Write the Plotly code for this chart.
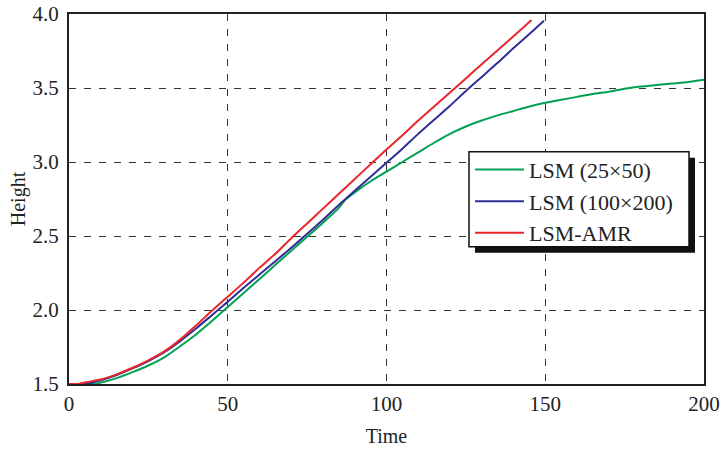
import plotly.graph_objects as go

# Time samples and heights
t_green = [0, 5, 8, 10, 15, 20, 25, 30, 35, 40, 45, 50, 55, 60, 65, 70, 75, 80, 85, 87,
           90, 95, 100, 105, 110, 115, 120, 125, 130, 135, 140, 145, 150, 155, 160, 165,
           170, 175, 180, 185, 190, 195, 200]
h_green = [1.5, 1.5, 1.5, 1.51, 1.54, 1.58, 1.625, 1.68, 1.755, 1.835, 1.925, 2.02, 2.115,
           2.21, 2.305, 2.40, 2.495, 2.59, 2.69, 2.745, 2.795, 2.87, 2.935, 3.0, 3.065,
           3.13, 3.19, 3.24, 3.28, 3.315, 3.345, 3.375, 3.40, 3.42, 3.44, 3.46, 3.475,
           3.495, 3.51, 3.52, 3.53, 3.54, 3.555]

t_blue = [0, 5, 10, 15, 20, 25, 30, 35, 40, 45, 50, 55, 60, 65, 70, 75, 80, 85, 90, 95,
          100, 105, 110, 115, 120, 125, 130, 135, 140, 145, 149.6]
h_blue = [1.5, 1.5, 1.525, 1.56, 1.605, 1.655, 1.715, 1.79, 1.875, 1.965, 2.055, 2.15,
          2.24, 2.33, 2.42, 2.515, 2.61, 2.71, 2.805, 2.90, 2.995, 3.09, 3.19, 3.285,
          3.38, 3.48, 3.575, 3.67, 3.77, 3.865, 3.955]

t_red = [0, 3, 5, 10, 15, 20, 25, 30, 35, 40, 45, 50, 55, 60, 65, 70, 75, 80, 85, 90, 95,
         100, 105, 110, 115, 120, 125, 130, 135, 140, 145.7]
h_red = [1.5, 1.5, 1.51, 1.53, 1.565, 1.61, 1.66, 1.72, 1.80, 1.895, 1.995, 2.09, 2.185,
         2.285, 2.38, 2.485, 2.585, 2.685, 2.785, 2.885, 2.985, 3.085, 3.18, 3.28, 3.375,
         3.47, 3.565, 3.66, 3.755, 3.85, 3.96]

x_ticks = [0, 50, 100, 150, 200]
y_ticks = [1.5, 2.0, 2.5, 3.0, 3.5, 4.0]
y_tick_text = ["1.5", "2.0", "2.5", "3.0", "3.5", "4.0"]

names = ["LSM (25×50)", "LSM (100×200)", "LSM-AMR"]
colors = ["#00a150", "#2e2e96", "#e8262b"]

FONT = "Liberation Serif, Times New Roman, serif"

fig = go.Figure()
for i, (tx, hy) in enumerate([(t_green, h_green), (t_blue, h_blue), (t_red, h_red)]):
    fig.add_trace(go.Scatter(x=tx, y=hy, mode="lines", name=names[i],
                             legendgroup=f"g{i}",
                             line=dict(color=colors[i], width=2, shape="spline",
                                       smoothing=0.6)))

W, H = 721, 449
ML, MR, MT, MB = 69, 17, 14, 64.5
PW, PH = W - ML - MR, H - MT - MB


def px(x):
    return (x - ML) / PW


def py(y):
    return (H - MB - y) / PH


fig.update_layout(
    width=W, height=H,
    margin=dict(l=ML, r=MR, t=MT, b=MB, autoexpand=False),
    paper_bgcolor="white", plot_bgcolor="white",
    font=dict(family=FONT, size=20, color="#222"),
    showlegend=True,
    legend=dict(x=px(470), y=py(149), xanchor="left", yanchor="top",
                bgcolor="rgba(0,0,0,0)", borderwidth=0,
                font=dict(family=FONT, size=22, color="#222"),
                traceorder="grouped", tracegroupgap=0, itemwidth=49),
    shapes=[
        dict(type="rect", xref="paper", yref="paper",
             x0=px(475), x1=px(695), y0=py(253), y1=py(158),
             fillcolor="#111", line=dict(width=0), layer="above"),
        dict(type="rect", xref="paper", yref="paper",
             x0=px(469), x1=px(689), y0=py(247), y1=py(152),
             fillcolor="white", line=dict(width=1.5, color="#111"), layer="above"),
    ],
)
fig.update_xaxes(range=[0, 200], tickvals=x_ticks, showgrid=True, automargin=False,
                 gridcolor="#333", griddash="7px,8px", gridwidth=1.3,
                 showline=True, linecolor="#222", linewidth=2, mirror=True,
                 zeroline=False, ticks="", ticklabelstandoff=0,
                 ticklabeloverflow="allow",
                 tickfont=dict(family=FONT, size=21, color="#222"),
                 title=dict(text="Time", font=dict(family=FONT, size=20, color="#222"),
                            standoff=14))
fig.update_yaxes(range=[1.5, 4.0], tickvals=y_ticks, ticktext=y_tick_text, showgrid=True,
                 automargin=False,
                 gridcolor="#333", griddash="7px,8px", gridwidth=1.3,
                 showline=True, linecolor="#222", linewidth=2, mirror=True,
                 zeroline=False, ticks="", ticklabelstandoff=4,
                 ticklabeloverflow="allow",
                 tickfont=dict(family=FONT, size=21, color="#222"),
                 title=dict(text="Height", font=dict(family=FONT, size=20, color="#222"),
                            standoff=2))

fig.write_html("out.html",
               config={"displayModeBar": False},
               post_script="document.body.style.margin='0';"
                           "document.body.style.overflow='hidden';")
